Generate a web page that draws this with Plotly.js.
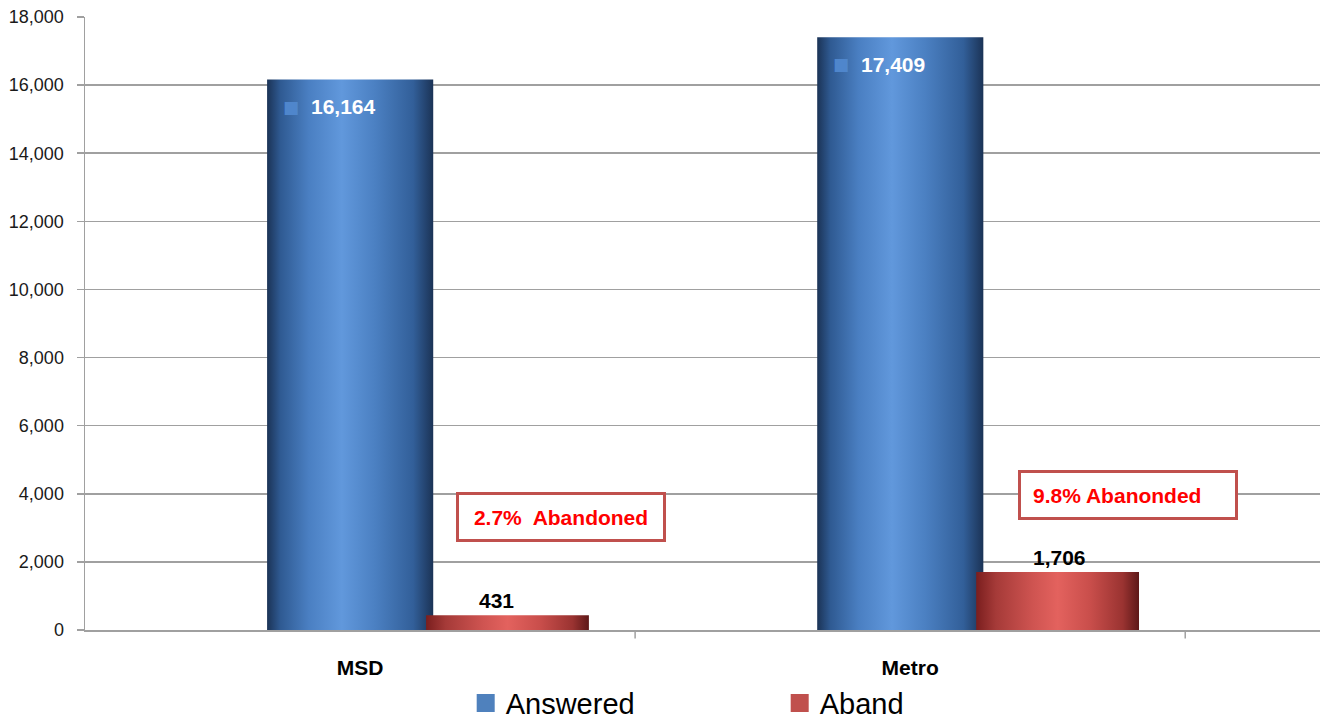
<!DOCTYPE html>
<html>
<head>
<meta charset="utf-8">
<script src="https://cdn.plot.ly/plotly-3.0.1.min.js"></script>
<style>
  html, body { margin: 0; padding: 0; background: #fff; }
  #chart { width: 1323px; height: 722px; }
</style>
</head>
<body>
<div id="chart"></div>
<script>
// ---- data ----
const categories = ['MSD', 'Metro'];
const answered = [16164, 17409];
const aband = [431, 1706];
const seriesNames = ['Answered', 'Aband'];
const callouts = ['2.7%\u00a0 Abandoned', '\u00a0\u20099.8% Abanonded'];
const calloutY = [3320, 3950];
const yTickVals = [0, 2000, 4000, 6000, 8000, 10000, 12000, 14000, 16000, 18000];

// ---- styling ----
const FONT = 'Arial, "Liberation Sans", sans-serif';
const blueOffset = -0.169, blueWidth = 0.302;
const redOffset = 0.12, redWidth = 0.296;
const abandLabelShift = [-11, 2];
const idx = categories.map((c, i) => i);

const traces = [
  {
    type: 'bar', name: seriesNames[0], x: idx, y: answered,
    offset: blueOffset, width: blueWidth,
    marker: { color: '#4f81bd', line: { width: 0 } },
    hoverinfo: 'skip'
  },
  {
    type: 'bar', name: seriesNames[1], x: idx, y: aband,
    offset: redOffset, width: redWidth,
    marker: { color: '#c0504d', line: { width: 0 } },
    hoverinfo: 'skip'
  }
];

const annotations = [];
idx.forEach(i => {
  annotations.push({
    x: i, y: answered[i], xref: 'x', yref: 'y',
    text: answered[i].toLocaleString('en-US'),
    showarrow: false, xshift: -17, yshift: -27,
    font: { family: FONT, size: 21, color: '#ffffff', weight: 'bold' }
  });
  annotations.push({
    x: i, y: answered[i], xref: 'x', yref: 'y',
    text: '\u25A0', showarrow: false, xshift: -69, yshift: -27,
    font: { family: '"DejaVu Sans", sans-serif', size: 17, color: '#4f86cc' }
  });
  annotations.push({
    x: i + redOffset + redWidth / 2, y: aband[i], xref: 'x', yref: 'y',
    text: aband[i].toLocaleString('en-US'),
    showarrow: false, yanchor: 'bottom', yshift: 1, xshift: abandLabelShift[i],
    font: { family: FONT, size: 21, color: '#000000', weight: 'bold' }
  });
  annotations.push({
    x: i + (i === 0 ? 0.365 : 0.396), y: calloutY[i], xref: 'x', yref: 'y',
    text: callouts[i], showarrow: false,
    width: i === 0 ? 200 : 210, height: 40, align: i === 0 ? 'center' : 'left',
    bgcolor: '#ffffff', bordercolor: '#c0504d', borderwidth: 3, borderpad: 2,
    font: { family: FONT, size: 21, color: '#ff0000', weight: 'bold' }
  });
});

const layout = {
  width: 1323, height: 722,
  margin: { l: 85, r: 3, t: 17, b: 92, pad: 0, autoexpand: false },
  paper_bgcolor: '#ffffff', plot_bgcolor: '#ffffff',
  barmode: 'overlay',
  showlegend: true,
  legend: {
    orientation: 'h', xref: 'container', yref: 'container',
    x: 0.352, xanchor: 'left', y: 0.026, yanchor: 'middle',
    font: { family: FONT, size: 29, color: '#000000' },
    entrywidth: 269, bgcolor: 'rgba(0,0,0,0)', itemclick: false
  },
  xaxis: {
    type: 'linear', range: [-0.5, 1.745], automargin: false,
    tickmode: 'array', tickvals: idx, ticktext: categories,
    showgrid: false, zeroline: false,
    showline: true, linecolor: '#a0a0a0', linewidth: 1.5,
    ticks: '', ticklabelstandoff: 18,
    tickfont: { family: FONT, size: 21, color: '#000000', weight: 'bold' }
  },
  yaxis: {
    range: [0, 18000], tickmode: 'array', tickvals: yTickVals, automargin: false,
    tickformat: ',d',
    showgrid: true, gridcolor: '#a0a0a0', gridwidth: 1.5,
    zeroline: false, showline: true, linecolor: '#a0a0a0', linewidth: 1.5,
    ticks: 'outside', ticklen: 7, tickcolor: '#a0a0a0', tickwidth: 1.5,
    ticklabelstandoff: 9,
    tickfont: { family: FONT, size: 18, color: '#1a1a1a' }
  },
  shapes: [0.5, 1.5].map(b => ({
    type: 'line', xref: 'x', yref: 'paper', x0: b, x1: b, y0: 0, y1: -0.014,
    line: { color: '#a0a0a0', width: 1.5 }
  })),
  annotations: annotations
};

function addGradients(gd) {
  const svg = gd.querySelector('svg.main-svg');
  if (!svg) return;
  let defs = svg.querySelector('defs');
  if (!defs) { defs = document.createElementNS('http://www.w3.org/2000/svg', 'defs'); svg.insertBefore(defs, svg.firstChild); }
  const mk = (id, stops) => {
    const g = document.createElementNS('http://www.w3.org/2000/svg', 'linearGradient');
    g.setAttribute('id', id);
    g.setAttribute('x1', '0'); g.setAttribute('x2', '1'); g.setAttribute('y1', '0'); g.setAttribute('y2', '0');
    stops.forEach(([o, c]) => {
      const s = document.createElementNS('http://www.w3.org/2000/svg', 'stop');
      s.setAttribute('offset', o); s.setAttribute('stop-color', c);
      g.appendChild(s);
    });
    defs.appendChild(g);
  };
  mk('gradBlue', [['0', '#1b3356'], ['0.08', '#2f5a92'], ['0.25', '#4a7fc2'], ['0.45', '#6198dc'], ['0.65', '#4b80c2'], ['0.88', '#325f99'], ['1', '#1b3356']]);
  mk('gradRed', [['0', '#7a1e1e'], ['0.12', '#a53a38'], ['0.35', '#cf5451'], ['0.5', '#e3625e'], ['0.7', '#c94e4b'], ['0.9', '#9a3331'], ['1', '#5e1818']]);
  const tr = gd.querySelectorAll('.barlayer .trace');
  tr.forEach((t, i) => {
    t.querySelectorAll('.point path').forEach(p => {
      p.style.fill = i === 0 ? 'url(#gradBlue)' : 'url(#gradRed)';
    });
  });
  gd.querySelectorAll('.legend .legendpoints path').forEach(p => {
    p.setAttribute('d', 'M9,9H-9V-9H9Z');
  });
}

Plotly.newPlot('chart', traces, layout, { displayModeBar: false, staticPlot: true })
  .then(addGradients);
</script>
</body>
</html>
